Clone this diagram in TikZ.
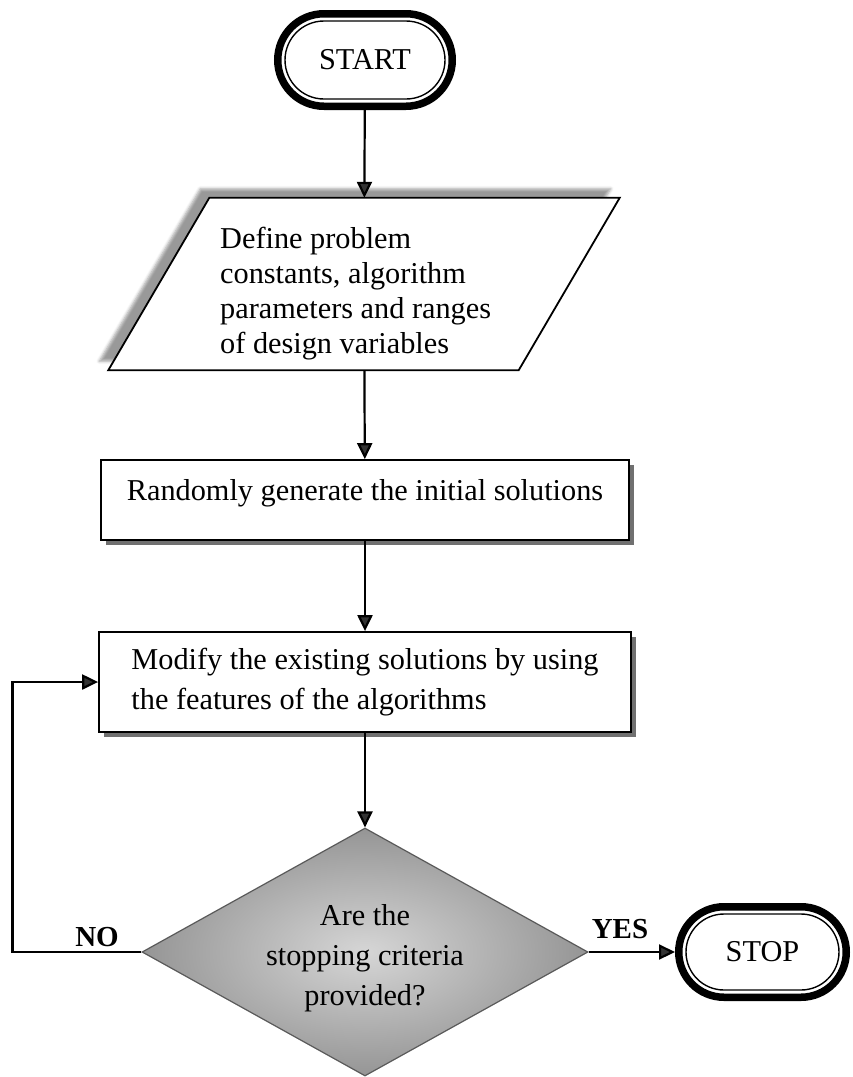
\documentclass[tikz,border=0pt]{standalone}
\usepackage{fontspec}
\setmainfont{Liberation Serif}
\usetikzlibrary{shapes.geometric,shapes.misc,arrows.meta,shadows,shadows.blur,calc}
\definecolor{diamondlight}{HTML}{D6D6D6}
\definecolor{diamonddark}{HTML}{959595}
\definecolor{diamondedge}{HTML}{5A5A5A}
\definecolor{boxshadow}{HTML}{707070}
\begin{document}
\begin{tikzpicture}[x=1pt,y=-1pt,
  txt/.style={font=\fontsize{30.3}{35}\selectfont},
  lbl/.style={font=\fontsize{29}{34}\selectfont\bfseries, inner sep=0pt},
  termouter/.style={rounded rectangle, draw, line width=7.5pt, inner sep=0pt, fill=white, txt},
  terminner/.style={rounded rectangle, draw, line width=1.4pt, inner sep=0pt},
  procbox/.style={rectangle, draw, line width=1.8pt, fill=white, inner sep=0pt, txt,
    drop shadow={shadow xshift=5pt, shadow yshift=-5pt, fill=boxshadow, opacity=1}},
  decision/.style={diamond, draw=diamondedge, line width=1.2pt, inner sep=0pt,
    shade, inner color=diamondlight, outer color=diamonddark},
  flow/.style={-{Triangle[length=16pt,width=15pt]}, line width=2.2pt}]

\useasboundingbox (0,0) rectangle (852,1077);

% START terminator: heavy outer ring with a thin inner line
\node[termouter, minimum width=174.5pt, minimum height=92.5pt] (start) at (365,60) {START};
\node[terminner, minimum width=160pt, minimum height=78pt] (start-in) at (start.center) {};

% input parallelogram with a soft shadow on its upper left
\node[inner sep=0pt, minimum width=511pt, minimum height=172pt] (define) at (364,284) {};
\draw[line width=1.8pt, fill=white,
      blur shadow={shadow xshift=-9pt, shadow yshift=9pt, shadow blur radius=3pt, shadow opacity=40}]
  ($(define.north west)+(101,0)$) -- (define.north east)
  -- ($(define.south east)+(-101,0)$) -- (define.south west) -- cycle;
\node[txt, anchor=west, align=left, inner sep=0pt] (define-txt) at (220,294)
  {Define problem\\constants, algorithm\\parameters and ranges\\of design variables};

% process boxes
\node[procbox, minimum width=528pt, minimum height=80pt, text depth=20pt] (rand) at (365,500)
  {Randomly generate the initial solutions};
\node[procbox, minimum width=532pt, minimum height=100pt, align=left,
      font=\fontsize{30.3}{40}\selectfont] (modify) at (365,682)
  {Modify the existing solutions by using\\the features of the algorithms};

% decision
\node[decision, minimum width=446pt, minimum height=248pt] (dec) at (365,952) {};
\node[align=center, inner sep=0pt, font=\fontsize{30.3}{40}\selectfont] (dec-txt) at (365,958)
  {Are the\\stopping criteria\\provided?};

% STOP terminator
\node[termouter, minimum width=167.5pt, minimum height=90.5pt] (stop) at (762.5,952) {STOP};
\node[terminner, minimum width=153pt, minimum height=76pt] (stop-in) at (stop.center) {};

% branch labels
\node[lbl] (no) at (97,937) {NO};
\node[lbl] (yes) at (620,929) {YES};

% connectors
\draw[flow] (start) -- (define);
\draw[flow] (define) -- (rand);
\draw[flow] (rand) -- (modify);
\draw[flow] (modify) -- (dec);
\draw[flow] (dec.east) -- (stop);
\draw[flow] (dec.west) -- ++(-129,0) |- (modify.west);
\end{tikzpicture}
\end{document}
